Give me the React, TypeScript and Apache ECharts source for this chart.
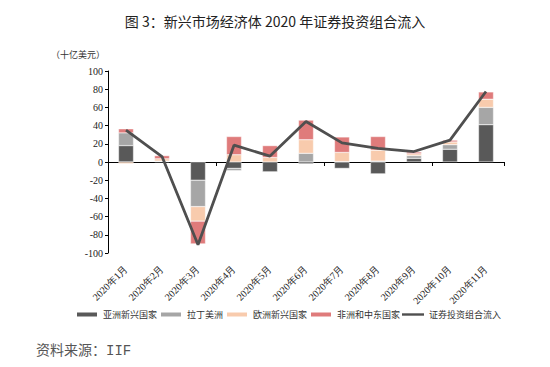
import React, { useEffect, useRef } from "react";
import * as echarts from "echarts";

const categories = [
  "2020年1月", "2020年2月", "2020年3月", "2020年4月", "2020年5月", "2020年6月",
  "2020年7月", "2020年8月", "2020年9月", "2020年10月", "2020年11月",
];
const asia = [18, 0.5, -20, -7, -11, -2, -7, -13, 4, 14, 41];
const latam = [14, 0.5, -29, -2.5, 0, 9.5, 0.5, 1, 3, 5, 19];
const europe = [-2, 2.5, -16, 8, 5, 15, 10, 12, 2, 3, 9];
const mena = [4.5, 3.5, -25, 20, 13, 21.5, 17, 15, 2, 2, 8];
const total = [35, 6, -91, 18.5, 6.5, 44.5, 21, 15, 11.5, 24, 77.5];
const yTicks = { min: -100, max: 100, interval: 20 };

const seriesNames = ["亚洲新兴国家", "拉丁美洲", "欧洲新兴国家", "非洲和中东国家", "证券投资组合流入"];
const colors = ["#595959", "#a6a6a6", "#f8cbad", "#df7b7b", "#4f4f4f"];

export default function App() {
  const ref = useRef<HTMLDivElement>(null);
  useEffect(() => {
    if (!ref.current) return;
    const chart = echarts.init(ref.current, null, { renderer: "svg" });
    const barData = [asia, latam, europe, mena];
    const serif = "'Liberation Serif', 'Times New Roman', serif";
    chart.setOption({
      animation: false,
      backgroundColor: "#ffffff",
      grid: { left: 108, right: 46, top: 71, bottom: 114, containLabel: false },
      legend: {
        left: 70,
        top: 305,
        itemWidth: 22,
        itemHeight: 6,
        itemGap: 2,
        symbolKeepAspect: true,
        textStyle: { fontSize: 9, color: "#333", fontFamily: "'Noto Sans CJK SC', sans-serif" },
        data: seriesNames.map((n, i) =>
          i < 4 ? { name: n, icon: "rect" } : { name: n, icon: "path://M0 0H22V2.4H0Z" }
        ),
      },
      xAxis: [
        {
          type: "category",
          data: categories,
          axisLine: { onZero: true, lineStyle: { color: "#000", width: 1 } },
          axisTick: { show: true, length: 4, lineStyle: { color: "#000" } },
          axisLabel: { show: false },
          splitLine: { show: false },
        },
        {
          type: "category",
          data: categories,
          position: "bottom",
          axisLine: { show: false, onZero: false },
          axisTick: { show: false },
          axisLabel: {
            rotate: 45,
            fontSize: 10,
            margin: 14,
            color: "#222",
            fontFamily: serif,
            interval: 0,
          },
        },
      ],
      yAxis: {
        type: "value",
        min: yTicks.min,
        max: yTicks.max,
        interval: yTicks.interval,
        axisLine: { show: true, lineStyle: { color: "#000", width: 1 } },
        axisTick: { show: true, length: 3, lineStyle: { color: "#000" } },
        axisLabel: { fontSize: 10, color: "#222", fontFamily: serif, margin: 5 },
        splitLine: { show: false },
      },
      series: [
        ...barData.map((d, i) => ({
          name: seriesNames[i],
          type: "bar",
          stack: "s",
          xAxisIndex: 0,
          barWidth: 15,
          data: d,
          itemStyle: { color: colors[i], borderColor: "#ffffff", borderWidth: 0.4 },
        })),
        {
          name: seriesNames[4],
          type: "line",
          xAxisIndex: 0,
          data: total,
          symbol: "none",
          z: 5,
          lineStyle: { color: colors[4], width: 2.8 },
          itemStyle: { color: colors[4] },
        },
      ],
      graphic: [
        {
          type: "text",
          left: "center",
          top: 14,
          style: {
            text: "图 3：新兴市场经济体 2020 年证券投资组合流入",
            fontSize: 14,
            fontWeight: "normal",
            fill: "#222",
            fontFamily: "'Noto Sans CJK SC', sans-serif",
          },
        },
        {
          type: "text",
          left: 51,
          top: 50,
          style: {
            text: "（十亿美元）",
            fontSize: 9,
            fill: "#333",
            fontFamily: "'Noto Sans CJK SC', sans-serif",
          },
        },
        {
          type: "text",
          left: 36,
          top: 344,
          style: {
            text: "资料来源：IIF",
            fontSize: 14,
            fill: "#555",
            fontFamily: "'Liberation Mono', 'Noto Sans CJK SC', monospace",
          },
        },
      ],
    });
    return () => chart.dispose();
  }, []);
  return (
    <div
      ref={ref}
      style={{ position: "fixed", left: 0, top: 0, width: 550, height: 367, background: "#fff" }}
    />
  );
}
